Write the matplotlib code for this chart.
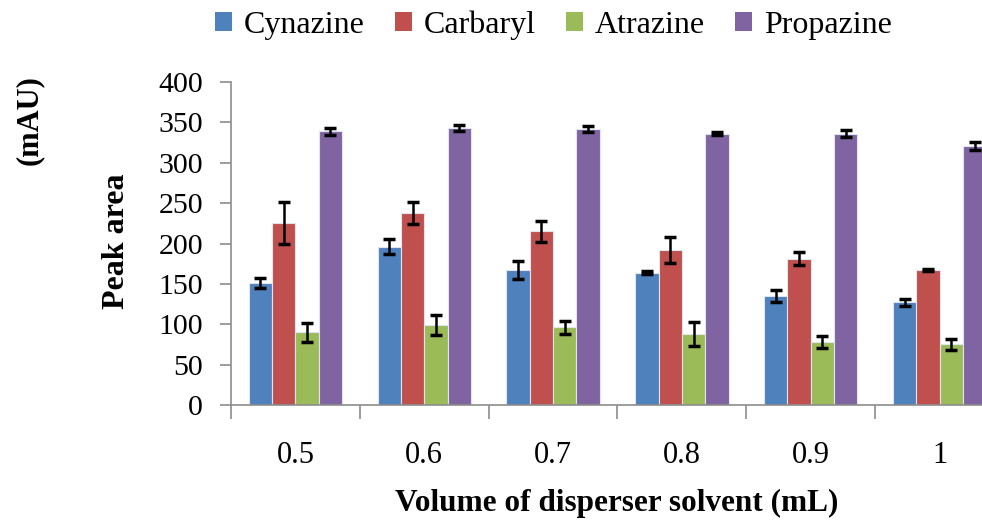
import numpy as np
import matplotlib
matplotlib.use("Agg")
import matplotlib.pyplot as plt
from matplotlib.patches import Patch

# данные
volumes = ['0.5', '0.6', '0.7', '0.8', '0.9', '1']
series = ['Cynazine', 'Carbaryl', 'Atrazine', 'Propazine']
colors = ['#4F81BD', '#C0504D', '#9BBB59', '#8064A2']

cynazine = [151, 196, 167, 164, 135, 127]
carbaryl = [226, 238, 215, 192, 181, 167]
atrazine = [90, 99, 96, 88, 78, 75]
propazine = [339, 343, 342, 336, 336, 321]

cynazine_err = [6, 9, 11, 2, 7, 4]
carbaryl_err = [26, 14, 13, 16, 8, 1.5]
atrazine_err = [12, 12, 8, 15, 8, 7]
propazine_err = [4.5, 4, 4, 1.5, 4, 5]

values = [cynazine, carbaryl, atrazine, propazine]
errors = [cynazine_err, carbaryl_err, atrazine_err, propazine_err]

plt.rcParams['font.family'] = ['Liberation Serif', 'DejaVu Serif']

fig = plt.figure(figsize=(9.82, 5.22), dpi=100)
ax = fig.add_axes([231 / 982, 117 / 522, (1004 - 231) / 982, (405 - 82) / 522])

x = np.arange(len(volumes))
width = 0.181
for i, (vals, errs) in enumerate(zip(values, errors)):
    offs = (i - 1.5) * width
    ax.bar(x + offs, vals, width, color=colors[i], edgecolor='#dfe6f0',
           linewidth=0.8, zorder=2)
    ax.errorbar(x + offs, vals, yerr=errs, fmt='none', ecolor='black',
                elinewidth=1.8, capsize=4.5, capthick=2.5, zorder=3)

ax.set_xlim(-0.5, len(volumes) - 0.5)
ax.set_ylim(0, 400)
ax.set_yticks(range(0, 401, 50))
ax.set_xticks(x)
ax.set_xticklabels(volumes)
ax.set_xticks(np.arange(-0.5, len(volumes), 1), minor=True)

for s in ['top', 'right']:
    ax.spines[s].set_visible(False)
for s in ['left', 'bottom']:
    ax.spines[s].set_color('#8c8c8c')
    ax.spines[s].set_linewidth(1.2)

ax.tick_params(axis='y', length=8, width=1.2, color='#8c8c8c', pad=12,
               labelsize=21.5)
ax.tick_params(axis='x', which='major', length=0, pad=26, labelsize=22)
ax.tick_params(axis='x', which='minor', length=10, width=1.2, color='#8c8c8c')

fig.text(617 / 982, 1 - 503 / 522, 'Volume of disperser solvent (mL)',
         ha='center', va='center', fontsize=22.5, fontweight='bold')
fig.text(116 / 982, 1 - 241 / 522, 'Peak area', rotation=90,
         ha='center', va='center', fontsize=23, fontweight='bold')
fig.text(29 / 982, 1 - 120 / 522, '(mAU)', rotation=90,
         ha='center', va='center', fontsize=22, fontweight='bold')

handles = [Patch(facecolor=c, edgecolor='none') for c in colors]
fig.legend(handles, series, loc='center', bbox_to_anchor=(553 / 982, 1 - 25 / 522),
           ncol=4, frameon=False, fontsize=23, handlelength=0.55, handleheight=0.55,
           handletextpad=0.35, columnspacing=0.95)

fig.savefig('out.png', dpi=100)
